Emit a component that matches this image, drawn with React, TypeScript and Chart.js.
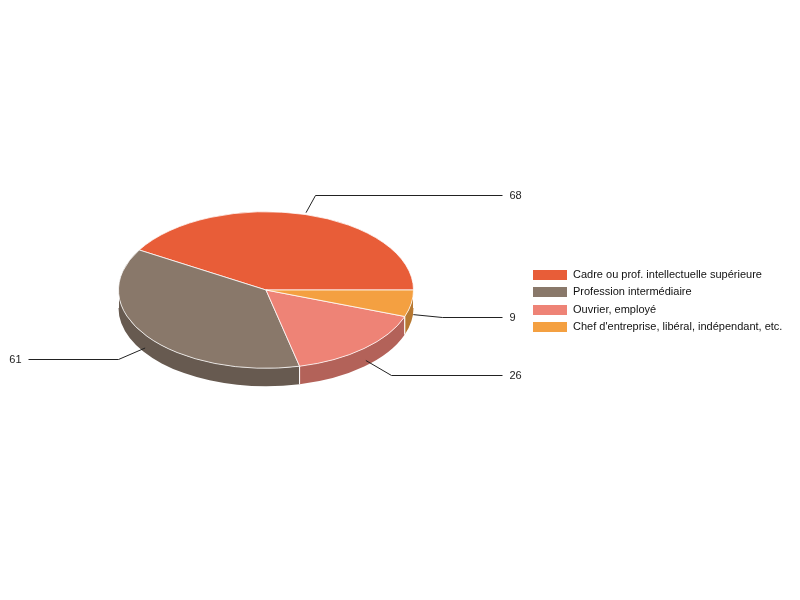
import React, { useEffect, useRef } from 'react';
import { Chart, ChartConfiguration, Plugin, registerables } from 'chart.js';

Chart.register(...registerables);

// data, in legend order
const categories = [
    'Cadre ou prof. intellectuelle supérieure',
    'Profession intermédiaire',
    'Ouvrier, employé',
    "Chef d'entreprise, libéral, indépendant, etc.",
];
const values = [68, 61, 26, 9];

const colors = ['#E85D38', '#89786A', '#EE8376', '#F4A041'];

const DEPTH = 18;
const TILT = 0.531; // ry / rx
const FONT = "11px 'Liberation Sans', Arial, sans-serif";
const TAU = Math.PI * 2;

const shade = (hex: string, f: number) => {
    const n = parseInt(hex.slice(1), 16);
    const r = Math.round(((n >> 16) & 255) * f);
    const g = Math.round(((n >> 8) & 255) * f);
    const b = Math.round((n & 255) * f);
    return `rgb(${r},${g},${b})`;
};

const geometry = (chart: Chart) => {
    const arcs = chart.getDatasetMeta(0).data as any[];
    if (!arcs.length) return null;
    const { x, y, outerRadius } = arcs[0].getProps(['x', 'y', 'outerRadius'], true);
    return { arcs, cx: x as number, cy: y as number, rx: outerRadius as number, ry: outerRadius * TILT };
};

const pie3d: Plugin<'pie'> = {
    id: 'pie3d',
    beforeDatasetsDraw(chart) {
        const g = geometry(chart);
        if (!g) return;
        const { arcs, cx, cy, rx, ry } = g;
        const ctx = chart.ctx;

        // side walls, only the front half of the ellipse is visible (t in [0, PI])
        ctx.save();
        arcs.forEach((arc, i) => {
            const { startAngle, endAngle } = arc.getProps(['startAngle', 'endAngle'], true);
            for (let k = -1; k <= 2; k++) {
                const a = Math.max(-endAngle + k * TAU, 0);
                const b = Math.min(-startAngle + k * TAU, Math.PI);
                if (b - a <= 1e-6) continue;
                ctx.beginPath();
                ctx.ellipse(cx, cy, rx, ry, 0, a, b, false);
                ctx.lineTo(cx + rx * Math.cos(b), cy + DEPTH + ry * Math.sin(b));
                ctx.ellipse(cx, cy + DEPTH, rx, ry, 0, b, a, true);
                ctx.closePath();
                ctx.fillStyle = shade(colors[i], 0.75);
                ctx.fill();

                ctx.strokeStyle = '#ffffff';
                ctx.lineWidth = 1;
                [a, b].forEach((t) => {
                    ctx.beginPath();
                    ctx.moveTo(cx + rx * Math.cos(t), cy + ry * Math.sin(t));
                    ctx.lineTo(cx + rx * Math.cos(t), cy + DEPTH + ry * Math.sin(t));
                    ctx.stroke();
                });
            }
        });
        ctx.restore();

        // squash (and flip, so slices run counter-clockwise) the top face
        ctx.save();
        ctx.translate(cx, cy);
        ctx.scale(1, -TILT);
        ctx.translate(-cx, -cy);
    },
    afterDatasetsDraw(chart) {
        const g = geometry(chart);
        if (!g) return;
        const { arcs, cx, cy, rx, ry } = g;
        const ctx = chart.ctx;
        ctx.restore();

        // value labels with leader lines
        ctx.save();
        ctx.font = FONT;
        ctx.textBaseline = 'middle';
        ctx.strokeStyle = '#222222';
        ctx.fillStyle = '#222222';
        ctx.lineWidth = 1;
        arcs.forEach((arc, i) => {
            const { startAngle, endAngle } = arc.getProps(['startAngle', 'endAngle'], true);
            const mid = (startAngle + endAngle) / 2;
            const c = Math.cos(mid);
            const s = Math.sin(mid);
            const front = s < 0;
            const dx = rx * c;
            const dy = -ry * s;
            const len = Math.hypot(dx, dy);
            const ux = dx / len;
            const uy = dy / len;
            const ax = cx + dx + ux * 2;
            const ay = cy + dy + uy * 2 + (front ? DEPTH / 2 + 2 : 0);
            const L = front ? 29 : 20;
            const ex = Math.round(ax + ux * L) + 0.5;
            const ey = Math.round(ay + uy * L) + 0.5;
            const right = c >= 0;
            const hx = right ? cx + rx + 89 : cx - rx - 90;
            ctx.beginPath();
            ctx.moveTo(ax, ay);
            ctx.lineTo(ex, ey);
            ctx.lineTo(hx, ey);
            ctx.stroke();
            ctx.textAlign = right ? 'left' : 'right';
            ctx.fillText(String(values[i]), right ? hx + 7 : hx - 7, ey);
        });
        ctx.restore();
    },
    afterDraw(chart) {
        const ctx = chart.ctx;
        ctx.save();
        ctx.font = FONT;
        ctx.textBaseline = 'middle';
        ctx.textAlign = 'left';
        categories.forEach((label, i) => {
            const y = 274.5 + i * 17.5;
            ctx.fillStyle = colors[i];
            ctx.fillRect(533, Math.round(y - 5), 34, 10);
            ctx.fillStyle = '#111111';
            ctx.fillText(label, 573, y);
        });
        ctx.restore();
    },
};

const Pie3D: React.FC = () => {
    const canvasRef = useRef<HTMLCanvasElement>(null);
    const chartRef = useRef<Chart | null>(null);

    useEffect(() => {
        if (!canvasRef.current) return;
        if (chartRef.current) chartRef.current.destroy();
        const ctx = canvasRef.current.getContext('2d');
        if (!ctx) return;

        const config: ChartConfiguration<'pie'> = {
            type: 'pie',
            data: {
                labels: categories,
                datasets: [{
                    data: values,
                    backgroundColor: colors,
                    borderColor: '#ffffff',
                    borderWidth: 1,
                }],
            },
            options: {
                responsive: false,
                animation: false,
                events: [],
                rotation: 90,
                clip: false as any,
                layout: { padding: { left: 118, right: 386, top: 142, bottom: 162 } },
                plugins: {
                    legend: { display: false },
                    tooltip: { enabled: false },
                },
            },
            plugins: [pie3d],
        };

        chartRef.current = new Chart(ctx, config);
        return () => {
            if (chartRef.current) {
                chartRef.current.destroy();
                chartRef.current = null;
            }
        };
    }, []);

    return <canvas ref={canvasRef} width={800} height={600} />;
};

export default function App() {
    return (
        <div style={{ position: 'absolute', left: 0, top: 0, width: 800, height: 600, background: '#ffffff' }}>
            <Pie3D />
        </div>
    );
}
